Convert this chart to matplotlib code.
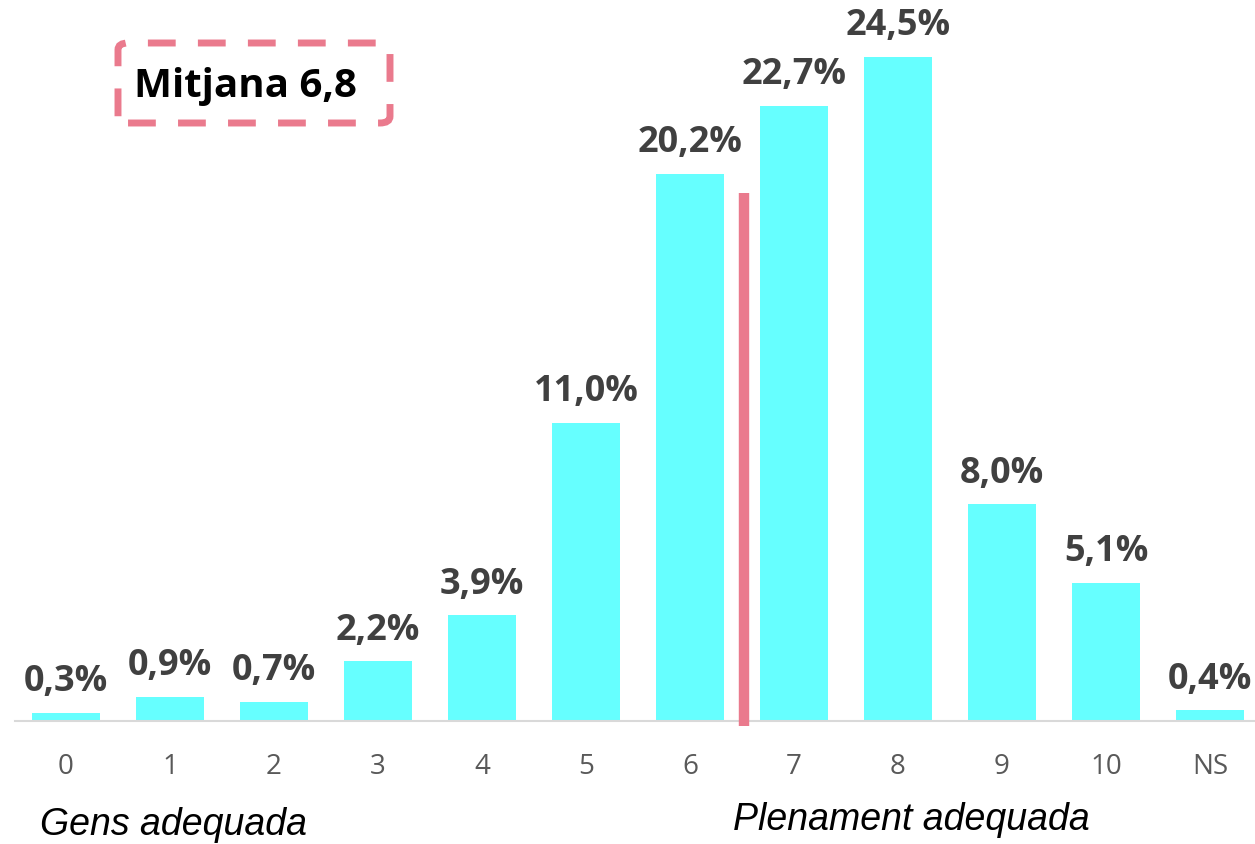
import matplotlib.pyplot as plt
from matplotlib.patches import FancyBboxPatch

# valoració (0-10) i percentatges
categories = ["0", "1", "2", "3", "4", "5", "6", "7", "8", "9", "10", "NS"]
values = [0.3, 0.9, 0.7, 2.2, 3.9, 11.0, 20.2, 22.7, 24.5, 8.0, 5.1, 0.4]
labels = ["0,3%", "0,9%", "0,7%", "2,2%", "3,9%", "11,0%", "20,2%",
          "22,7%", "24,5%", "8,0%", "5,1%", "0,4%"]
mean_text = "Mitjana 6,8"
mean_pos = 6.52
mean_top = 19.5

bar_color = "#66FFFF"
pink = "#EA7A8D"

W, H = 1255, 845
fig = plt.figure(figsize=(W / 100, H / 100), dpi=100)
fig.patch.set_facecolor("white")

# axes placed so baseline sits at y=722px and bar 0 at x=66px, 104px apart
step = 104.0
x0 = -66 / step
x1 = (W - 66) / step
ax = fig.add_axes([0, 1 - 722 / H, 1, 722 / H])
ax.set_xlim(x0, x1)
ax.set_ylim(0, 722 / 27.1)
ax.patch.set_alpha(0)

xs = list(range(len(categories)))
ax.bar(xs, values, width=0.66, color=bar_color, zorder=2)

for x, v, t in zip(xs, values, labels):
    ax.text(x, v + 0.5, t, ha="center", va="bottom", fontsize=26,
            fontweight="bold", color="#404040", family="Open Sans")

# mean marker
ax.plot([mean_pos, mean_pos], [-0.2, mean_top], color=pink, lw=7.5,
        solid_capstyle="butt", zorder=3, clip_on=False)

for s in ["top", "right", "left"]:
    ax.spines[s].set_visible(False)
ax.spines["bottom"].set_color("#D9D9D9")
ax.spines["bottom"].set_linewidth(1.5)
ax.spines["bottom"].set_bounds((15 - 66) / step, x1)
ax.set_yticks([])
ax.set_xticks(xs)
ax.set_xticklabels(categories, fontsize=20, color="#595959", family="Open Sans")
ax.tick_params(axis="x", length=0, pad=22)

# mean box
box = FancyBboxPatch((118 / W, 1 - 124 / H), (390 - 118) / W, (124 - 44) / H,
                     boxstyle="round,pad=0,rounding_size=0.008",
                     transform=fig.transFigure, fill=False, edgecolor=pink,
                     lw=5, linestyle=(0, (4, 3.2)))
fig.patches.append(box)
fig.text(245 / W, 1 - 86 / H, mean_text, ha="center", va="center",
         fontsize=29, fontweight="bold", color="black", family="Open Sans")

fig.text(40 / W, 1 - 825 / H, "Gens adequada", ha="left", va="center",
         fontsize=27, style="italic", color="black", family="Liberation Sans")
fig.text(733 / W, 1 - 820 / H, "Plenament adequada", ha="left", va="center",
         fontsize=27, style="italic", color="black", family="Liberation Sans")

fig.savefig("out.png", dpi=100)
